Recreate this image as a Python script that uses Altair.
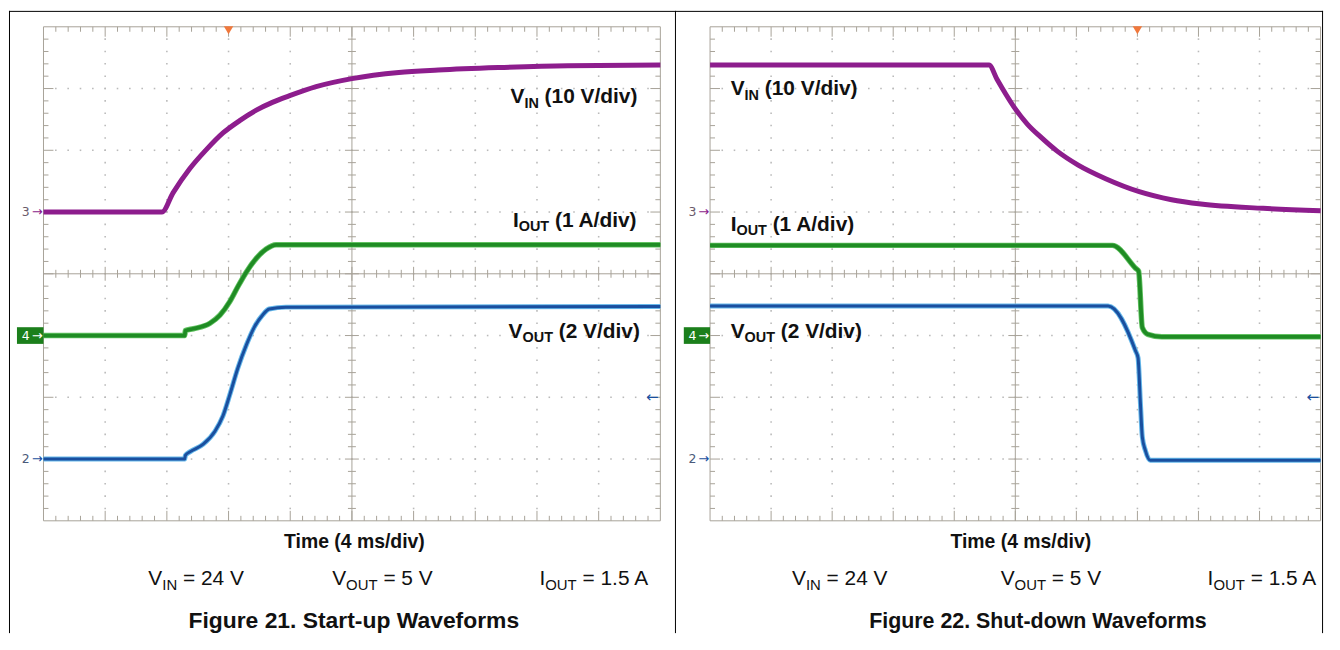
import altair as alt
import pandas as pd

# ---------------- values ----------------
# screen divisions: x 0..10 (4 ms/div), y 0..8 ; channel ground markers at y = 5 (ch3), 3 (ch4), 1 (ch2)

# Figure 21 - start-up
SU_VIN_X = [0, 1.92, 2.10, 2.37, 2.64, 2.91, 3.18, 3.45, 3.72, 3.98, 4.42, 5.00, 5.76, 6.40, 7.37, 8.50, 10]
SU_VIN_Y = [5.00, 5.00, 5.31, 5.70, 6.01, 6.28, 6.48, 6.65, 6.78, 6.88, 7.03, 7.16, 7.26, 7.30, 7.34, 7.37, 7.38]
SU_IOUT_X = [0, 2.29, 2.30, 2.43, 2.70, 2.86, 3.02, 3.15, 3.29, 3.45, 3.61, 3.77, 4.31, 10]
SU_IOUT_Y = [3.00, 3.00, 3.08, 3.11, 3.20, 3.33, 3.55, 3.79, 4.03, 4.25, 4.40, 4.47, 4.47, 4.47]
SU_VOUT_X = [0, 2.29, 2.30, 2.38, 2.59, 2.78, 2.91, 3.02, 3.15, 3.29, 3.42, 3.55, 3.66, 3.93, 10]
SU_VOUT_Y = [1.00, 1.00, 1.06, 1.12, 1.24, 1.45, 1.70, 2.04, 2.47, 2.85, 3.14, 3.33, 3.43, 3.46, 3.47]

# Figure 22 - shut-down
SD_VIN_X = [0, 4.57, 4.70, 4.85, 5.00, 5.20, 5.41, 5.68, 6.03, 6.48, 7.03, 7.56, 8.04, 9.06, 10]
SD_VIN_Y = [7.38, 7.38, 7.15, 6.90, 6.67, 6.42, 6.22, 5.99, 5.76, 5.54, 5.33, 5.20, 5.13, 5.06, 5.02]
SD_IOUT_X = [0, 6.59, 6.97, 7.02, 7.08, 7.17, 7.40, 10]
SD_IOUT_Y = [4.46, 4.46, 4.09, 4.04, 3.13, 3.02, 2.98, 2.98]
SD_VOUT_X = [0, 6.52, 6.97, 7.01, 7.05, 7.08, 7.13, 7.21, 10]
SD_VOUT_Y = [3.48, 3.48, 2.75, 2.64, 1.89, 1.36, 1.14, 0.98, 0.98]

CHANNELS = ["3", "4", "2"]
CHANNEL_LEVELS = [5.0, 3.0, 1.0]
TRIGGER_LEVEL = 2.0
SU_TRIGGER_X = 3.0
SD_TRIGGER_X = 7.0

TRACE_LABELS = [("V", "IN", " (10 V/div)"), ("I", "OUT", " (1 A/div)"), ("V", "OUT", " (2 V/div)")]
CONDITIONS = [("V", "IN", " = 24 V"), ("V", "OUT", " = 5 V"), ("I", "OUT", " = 1.5 A")]
TIME_LABEL = "Time (4 ms/div)"
SU_CAPTION = "Figure 21. Start-up Waveforms"
SD_CAPTION = "Figure 22. Shut-down Waveforms"

# ---------------- styles ----------------
PURPLE = "#8d1d8d"
GREEN = "#1f8c24"
GREEN_HALO = "#62c262"
BLUE = "#1a4f9f"
BLUE_HALO = "#66b8ea"
FRAME = "#a7a298"
DOT = "#bababa"
ORANGE = "#f0783c"
BOX_GREEN = "#1b7f1b"
FONT = "Liberation Sans"

REG_W = {' ': 278, '=': 584, '.': 278, 'V': 667, 'A': 667, 'I': 278, 'N': 722, 'O': 778, 'U': 722, 'T': 611}
BOLD_W = {' ': 278, '(': 333, ')': 333, '/': 278, '.': 278, 'V': 667, 'A': 722, 'I': 278, 'N': 722,
          'O': 778, 'U': 722, 'T': 611, 'd': 611, 'i': 278, 'v': 556}


def text_width(s, size, bold):
    table = BOLD_W if bold else REG_W
    return sum(table.get(c, 556) for c in s) * size / 1000.0


def compose(ax, ay, parts, pxx, pxy, bold):
    rows = []
    off = 0.0
    for text, size, drop in parts:
        stripped = text.lstrip(" ")
        off += (len(text) - len(stripped)) * 278 * size / 1000.0
        rows.append({"x": ax + off / pxx, "y": ay - drop / pxy, "t": stripped, "s": size})
        off += text_width(stripped, size, bold)
    return rows


H_VIEW = 626
SU_LAYOUT = dict(
    W=670, H=H_VIEW, plot_left=34.7, plot_top=16, pxx=62.06, pxy=62.125,
    traces=[(SU_VIN_X, SU_VIN_Y), (SU_IOUT_X, SU_IOUT_Y), (SU_VOUT_X, SU_VOUT_Y)],
    label_pos=[(7.57, 6.76), (7.61, 4.765), (7.54, 2.96)],
    cond_pos=[(1.70, -1.046), (4.68, -1.046), (8.04, -1.046)],
    time_pos=(5.04, -0.435), caption=SU_CAPTION, caption_pos=(5.03, -1.74), caption_size=23,
    trig_x=SU_TRIGGER_X, right_border=False,
)
SD_LAYOUT = dict(
    W=652, H=H_VIEW, plot_left=35.3, plot_top=16, pxx=61.42, pxy=62.125,
    traces=[(SD_VIN_X, SD_VIN_Y), (SD_IOUT_X, SD_IOUT_Y), (SD_VOUT_X, SD_VOUT_Y)],
    label_pos=[(0.337, 6.89), (0.337, 4.70), (0.337, 2.96)],
    cond_pos=[(1.342, -1.046), (4.76, -1.046), (8.15, -1.046)],
    time_pos=(5.09, -0.435), caption=SD_CAPTION, caption_pos=(5.37, -1.74), caption_size=21.5,
    trig_x=SD_TRIGGER_X, right_border=True,
)


def panel(p):
    W, H, pxx, pxy = p["W"], p["H"], p["pxx"], p["pxy"]
    xmin = -p["plot_left"] / pxx
    xmax = xmin + W / pxx
    ymax = 8 + p["plot_top"] / pxy
    ymin = ymax - H / pxy
    sx = alt.Scale(domain=[xmin, xmax], nice=False, zero=False)
    sy = alt.Scale(domain=[ymin, ymax], nice=False, zero=False)

    def X(f):
        return alt.X(f, type="quantitative", scale=sx, axis=None)

    def Y(f):
        return alt.Y(f, type="quantitative", scale=sy, axis=None)

    layers = []

    # dotted graticule
    dots = []
    for gx in range(1, 10):
        if gx == 5:
            continue
        for k in range(1, 40):
            dots.append({"x": gx, "y": k * 0.2})
    for gy in range(1, 8):
        if gy == 4:
            continue
        for k in range(1, 50):
            dots.append({"x": k * 0.2, "y": gy})
    layers.append(alt.Chart(pd.DataFrame(dots)).mark_square(size=2.5, color=DOT, opacity=1)
                  .encode(x=X("x"), y=Y("y")))

    # frame, centre cross, ticks
    segs = [
        (0, 10, 0, 0), (0, 10, 8, 8), (0, 0, 0, 8), (10, 10, 0, 8),
        (0, 10, 4, 4), (5, 5, 0, 8),
    ]
    for k in range(1, 50):
        tx = k * 0.2
        major = (k % 5 == 0)
        L = (10 if major else 5)
        segs.append((tx, tx, 8, 8 - L / pxy))
        segs.append((tx, tx, 0, L / pxy))
        c = (7 if major else 4)
        segs.append((tx, tx, 4 - c / pxy, 4 + c / pxy))
    for k in range(1, 40):
        ty = k * 0.2
        major = (k % 5 == 0)
        L = (10 if major else 5)
        segs.append((0, L / pxx, ty, ty))
        segs.append((10, 10 - L / pxx, ty, ty))
        c = (7 if major else 4)
        segs.append((5 - c / pxx, 5 + c / pxx, ty, ty))
    seg_df = pd.DataFrame(segs, columns=["x", "x2", "y", "y2"])
    layers.append(alt.Chart(seg_df).mark_rule(color=FRAME, strokeWidth=1)
                  .encode(x=X("x"), x2="x2", y=Y("y"), y2="y2"))

    # traces
    styles = [
        [(PURPLE, 5.0)],
        [(GREEN_HALO, 5.5), (GREEN, 3.8)],
        [(BLUE_HALO, 5.0), (BLUE, 3.0)],
    ]
    for (tx, ty), st in zip(p["traces"], styles):
        df = pd.DataFrame({"x": tx, "y": ty})
        for col, wdt in st:
            layers.append(alt.Chart(df).mark_line(color=col, strokeWidth=wdt, interpolate="monotone")
                          .encode(x=X("x"), y=Y("y")))

    # trace labels (bold, with subscripts)
    bold_rows = []
    for (m, sub, rest), (lx, ly) in zip(TRACE_LABELS, p["label_pos"]):
        bold_rows += compose(lx, ly, [(m, 21, 0), (sub, 14.5, 4.5), (rest, 21, 0)], pxx, pxy, True)
    layers.append(alt.Chart(pd.DataFrame(bold_rows))
                  .mark_text(align="left", baseline="alphabetic", font=FONT, fontWeight="bold", color="#111111")
                  .encode(x=X("x"), y=Y("y"), text="t:N", size=alt.Size("s:Q", scale=None)))

    # operating conditions (regular, with subscripts)
    reg_rows = []
    for (m, sub, rest), (lx, ly) in zip(CONDITIONS, p["cond_pos"]):
        reg_rows += compose(lx, ly, [(m, 21, 0), (sub, 15, 5), (rest, 21, 0)], pxx, pxy, False)
    layers.append(alt.Chart(pd.DataFrame(reg_rows))
                  .mark_text(align="left", baseline="alphabetic", font=FONT, color="#111111")
                  .encode(x=X("x"), y=Y("y"), text="t:N", size=alt.Size("s:Q", scale=None)))

    # centred bold texts: time axis label and figure caption
    cen = pd.DataFrame([
        {"x": p["time_pos"][0], "y": p["time_pos"][1], "t": TIME_LABEL, "s": 19.5},
        {"x": p["caption_pos"][0], "y": p["caption_pos"][1], "t": p["caption"], "s": p["caption_size"]},
    ])
    layers.append(alt.Chart(cen)
                  .mark_text(align="center", baseline="alphabetic", font=FONT, fontWeight="bold", color="#111111")
                  .encode(x=X("x"), y=Y("y"), text="t:N", size=alt.Size("s:Q", scale=None)))

    # channel 4 box
    lvl4 = CHANNEL_LEVELS[1]
    box = pd.DataFrame([{"x": -0.43, "x2": 0.0, "y": lvl4 - 0.135, "y2": lvl4 + 0.135}])
    layers.append(alt.Chart(box).mark_rect(color=BOX_GREEN)
                  .encode(x=X("x"), x2="x2", y=Y("y"), y2="y2"))

    # channel markers
    marks = []
    num_col = ["#6a5a6a", "#ffffff", "#4a5a7a"]
    arr_col = [PURPLE, "#ffffff", BLUE]
    for ch, lvl, nc, ac in zip(CHANNELS, CHANNEL_LEVELS, num_col, arr_col):
        marks.append({"x": -0.29, "y": lvl, "t": ch, "c": nc, "s": 12.5})
        marks.append({"x": -0.10, "y": lvl, "t": "→", "c": ac, "s": 13})
    marks.append({"x": 9.87, "y": TRIGGER_LEVEL, "t": "←", "c": BLUE, "s": 15})
    layers.append(alt.Chart(pd.DataFrame(marks))
                  .mark_text(align="center", baseline="middle", font="DejaVu Sans")
                  .encode(x=X("x"), y=Y("y"), text="t:N",
                          color=alt.Color("c:N", scale=None), size=alt.Size("s:Q", scale=None)))

    # trigger position marker
    trig = pd.DataFrame([{"x": p["trig_x"], "y": 8 - 3.5 / pxy}])
    layers.append(alt.Chart(trig).mark_point(shape="triangle-down", filled=True, size=90, color=ORANGE,
                                             opacity=1, strokeWidth=0)
                  .encode(x=X("x"), y=Y("y")))

    # page borders
    one = pd.DataFrame({"k": [0]})
    layers.append(alt.Chart(one).mark_rule(color="#000000", strokeWidth=1)
                  .encode(x=alt.value(0), x2=alt.value(W), y=alt.value(0.5)))
    layers.append(alt.Chart(one).mark_rule(color="#000000", strokeWidth=1)
                  .encode(x=alt.value(0.5), y=alt.value(0), y2=alt.value(H)))
    if p["right_border"]:
        layers.append(alt.Chart(one).mark_rule(color="#000000", strokeWidth=1)
                      .encode(x=alt.value(W - 0.5), y=alt.value(0), y2=alt.value(H)))

    return alt.layer(*layers).properties(width=W, height=H)


chart = (
    alt.hconcat(panel(SU_LAYOUT), panel(SD_LAYOUT), spacing=0, bounds="flush")
    .properties(padding=0, background="white")
    .configure_view(strokeWidth=0)
)

chart.save("out.html", embed_options={"renderer": "svg", "actions": False})
